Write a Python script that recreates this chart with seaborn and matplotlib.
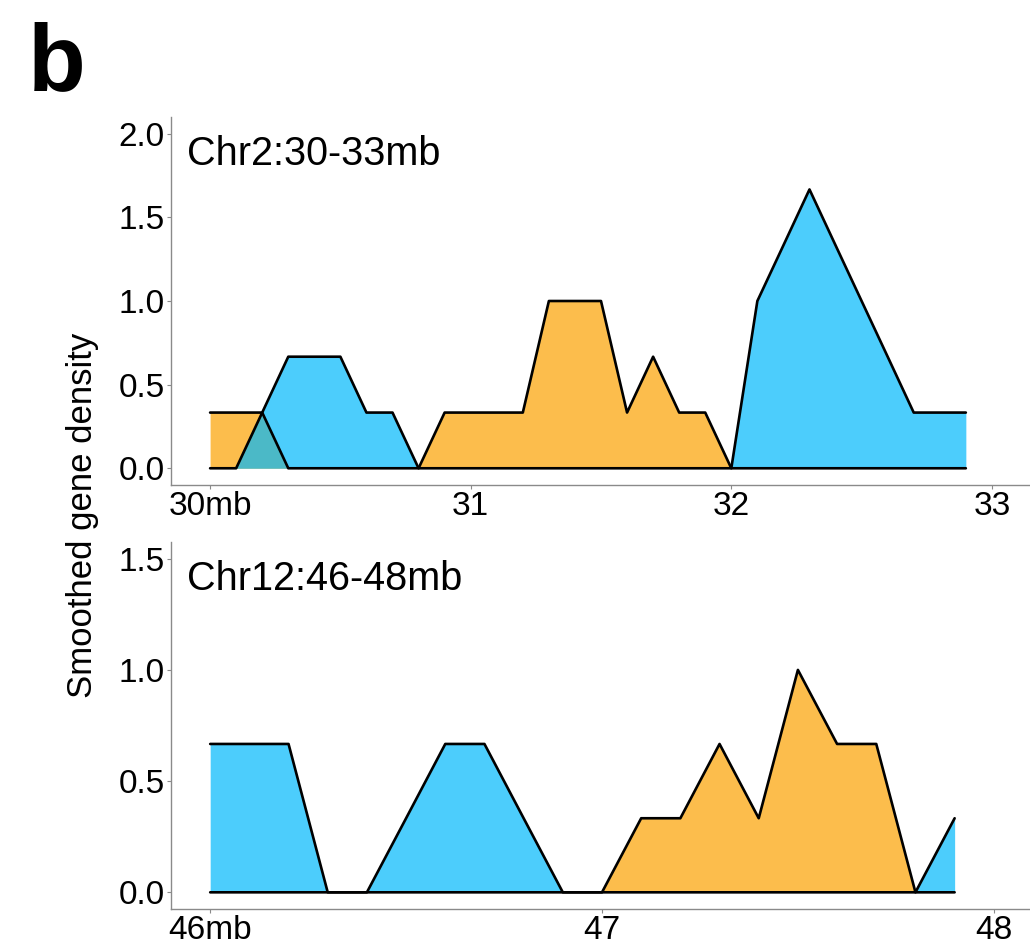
import numpy as np
import pandas as pd
import matplotlib
matplotlib.use("Agg")
import matplotlib.pyplot as plt
import seaborn as sns

# ---------------- data ----------------
top_pos = [30.0, 30.1, 30.2, 30.3, 30.4, 30.5, 30.6, 30.7, 30.8, 30.9,
           31.0, 31.1, 31.2, 31.3, 31.4, 31.5, 31.6, 31.7, 31.8, 31.9,
           32.0, 32.1, 32.2, 32.3, 32.4, 32.5, 32.6, 32.7, 32.8, 32.9]
top_orange = [0.333, 0.333, 0.333, 0, 0, 0, 0, 0, 0, 0.333,
              0.333, 0.333, 0.333, 1.0, 1.0, 1.0, 0.333, 0.667, 0.333, 0.333,
              0, 0, 0, 0, 0, 0, 0, 0, 0, 0]
top_blue = [0, 0, 0.333, 0.667, 0.667, 0.667, 0.333, 0.333, 0, 0,
            0, 0, 0, 0, 0, 0, 0, 0, 0, 0,
            0, 1.0, 1.333, 1.667, 1.333, 1.0, 0.667, 0.333, 0.333, 0.333]

bot_pos = [46.0, 46.1, 46.2, 46.3, 46.4, 46.5, 46.6, 46.7, 46.8, 46.9,
           47.0, 47.1, 47.2, 47.3, 47.4, 47.5, 47.6, 47.7, 47.8, 47.9]
bot_blue = [0.667, 0.667, 0.667, 0, 0, 0.333, 0.667, 0.667, 0.333, 0,
            0, 0, 0, 0, 0, 0, 0, 0, 0, 0.333]
bot_orange = [0, 0, 0, 0, 0, 0, 0, 0, 0, 0,
              0, 0.333, 0.333, 0.667, 0.333, 1.0, 0.667, 0.667, 0, 0]

top_title = "Chr2:30-33mb"
bot_title = "Chr12:46-48mb"
top_xticks = [30, 31, 32, 33]
top_xlabels = ["30mb", "31", "32", "33"]
bot_xticks = [46, 47, 48]
bot_xlabels = ["46mb", "47", "48"]
top_yticks = [0.0, 0.5, 1.0, 1.5, 2.0]
bot_yticks = [0.0, 0.5, 1.0, 1.5]
ylabel = "Smoothed gene density"
panel_letter = "b"

ORANGE = "#FCA200"
BLUE = "#00B8FC"

# ---------------- style ----------------
sns.set_theme(style="white")
plt.rcParams["font.family"] = ["Liberation Sans", "DejaVu Sans"]

fig = plt.figure(figsize=(10.3, 9.47), dpi=100)
W, H = 1030, 947
ax_top = fig.add_axes([171 / W, 1 - 485 / H, 860 / W, 368 / H])
ax_bot = fig.add_axes([171 / W, 1 - 909 / H, 862 / W, 367 / H])


def draw(ax, pos, first, first_color, second, second_color):
    df = pd.DataFrame({"pos": pos, "a": first, "b": second})
    ax.fill_between(df["pos"], 0, df["a"], color=first_color, alpha=0.7, lw=0, zorder=1)
    ax.fill_between(df["pos"], 0, df["b"], color=second_color, alpha=0.7, lw=0, zorder=2)
    sns.lineplot(data=df, x="pos", y="a", ax=ax, color="black", lw=1.9, zorder=3)
    sns.lineplot(data=df, x="pos", y="b", ax=ax, color="black", lw=1.9, zorder=4)


draw(ax_top, top_pos, top_orange, ORANGE, top_blue, BLUE)
draw(ax_bot, bot_pos, bot_blue, BLUE, bot_orange, ORANGE)

ax_top.set_xlim(29.85, 33.15)
ax_top.set_ylim(-0.1, 2.1)
ax_bot.set_xlim(45.9, 48.1)
ax_bot.set_ylim(-0.075, 1.575)

for ax, xt, xl, yt, title in [
    (ax_top, top_xticks, top_xlabels, top_yticks, top_title),
    (ax_bot, bot_xticks, bot_xlabels, bot_yticks, bot_title),
]:
    ax.set_xticks(xt)
    ax.set_xticklabels(xl)
    ax.set_yticks(yt)
    ax.set_yticklabels([f"{v:.1f}" for v in yt])
    ax.set_xlabel("")
    ax.set_ylabel("")
    ax.set_facecolor("white")
    for s in ["top", "right"]:
        ax.spines[s].set_visible(False)
    for s in ["left", "bottom"]:
        ax.spines[s].set_color("#8a8a8a")
        ax.spines[s].set_linewidth(1.0)
    ax.tick_params(axis="both", which="major", labelsize=24, length=3,
                   width=0.8, color="#8a8a8a", labelcolor="black", pad=1.5,
                   left=True, bottom=True)
    ax.text(0.0186, 0.87, title, transform=ax.transAxes, fontsize=28.5,
            ha="left", va="baseline", color="black")

fig.text(83 / W, 1 - 515 / H, ylabel, rotation=90, fontsize=25,
         ha="center", va="center", color="black")
fig.text(28 / W, 1 - 90 / H, panel_letter, fontsize=68, fontweight="bold",
         ha="left", va="baseline", color="black")

fig.savefig("out.png", dpi=100, facecolor="white")
